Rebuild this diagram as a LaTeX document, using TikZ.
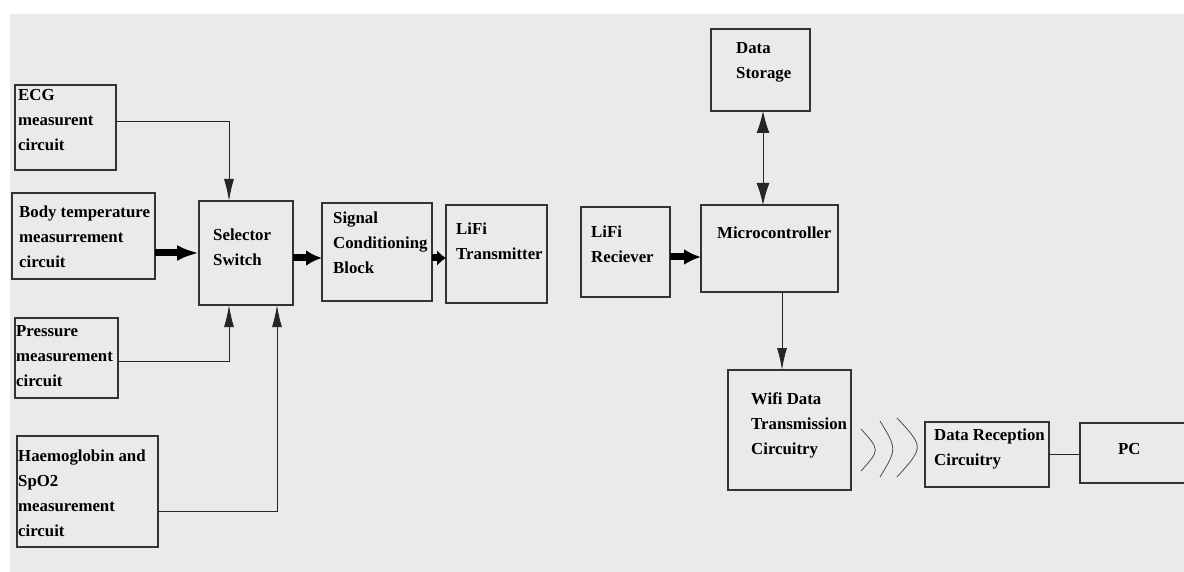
\documentclass[tikz,border=0pt]{standalone}
\usepackage{fontspec}
\setmainfont{Liberation Serif}
\usetikzlibrary{arrows.meta,fit}
\definecolor{pagegray}{HTML}{EAEAEA}
\definecolor{edgecol}{HTML}{333333}
\tikzset{
  blk/.style={draw=edgecol, line width=1.3pt, inner sep=0pt, outer sep=0pt},
  lbl/.style={font=\fontsize{16.8}{25}\selectfont\bfseries, align=left, inner sep=0pt, anchor=north west},
  thinarr/.style={draw=black!85, line width=1pt, -{Latex[length=22pt,width=10pt]}},
  bothway/.style={draw=black!85, line width=1pt, {Latex[length=22pt,width=13pt]}-{Latex[length=22pt,width=13pt]}},
  fatarr/.style={line width=7pt, -{Latex[length=#1,width=16pt]}},
  plain/.style={draw=black!85, line width=1pt},
  wave/.style={draw=black!70, line width=0.8pt}
}
\begin{document}
\begin{tikzpicture}[x=1pt, y=-1pt]
  \useasboundingbox (0,0) rectangle (1184,572);
  \fill[pagegray] (10,14) rectangle (1184,572);
  % sensor blocks on the left
  \node[blk, fit={(15,85) (116,170)}] (ecg) {};
  \node[lbl] (ecg-t) at (18,89) {ECG\\measurent\\circuit};
  \node[blk, fit={(12,193) (155,279)}] (temp) {};
  \node[lbl] (temp-t) at (19,206) {Body temperature\\measurrement\\circuit};
  \node[blk, fit={(15,318) (118,398)}] (pres) {};
  \node[lbl] (pres-t) at (16,325) {Pressure\\measurement\\circuit};
  \node[blk, fit={(17,436) (158,547)}] (hb) {};
  \node[lbl] (hb-t) at (18,450) {Haemoglobin and\\SpO2\\measurement\\circuit};
  % transmitter chain
  \node[blk, fit={(199,201) (293,305)}] (sel) {};
  \node[lbl] (sel-t) at (213,229) {Selector\\Switch};
  \node[blk, fit={(322,203) (432,301)}] (sig) {};
  \node[lbl] (sig-t) at (333,212) {Signal\\Conditioning\\Block};
  \node[blk, fit={(446,205) (547,303)}] (ltx) {};
  \node[lbl] (ltx-t) at (456,223) {LiFi\\Transmitter};
  % receiver side
  \node[blk, fit={(581,207) (670,297)}] (lrx) {};
  \node[lbl] (lrx-t) at (591,226) {LiFi\\Reciever};
  \node[blk, fit={(711,29) (810,111)}] (stor) {};
  \node[lbl] (stor-t) at (736,42) {Data\\Storage};
  \node[blk, fit={(701,205) (838,292)}] (mcu) {};
  \node[lbl] (mcu-t) at (717,227) {Microcontroller};
  \node[blk, fit={(728,370) (851,490)}] (wifi) {};
  \node[lbl] (wifi-t) at (751,392) {Wifi Data\\Transmission\\Circuitry};
  \node[blk, fit={(925,422) (1049,487)}] (recv) {};
  \node[lbl] (recv-t) at (934,429) {Data Reception\\Circuitry};
  \node[blk, fit={(1080,423) (1200,483)}] (pc) {};
  \node[lbl] (pc-t) at (1118,443) {PC};
  % inputs into the selector
  \coordinate (sel-n) at ([xshift=-17pt]sel.north);
  \coordinate (sel-s1) at ([xshift=-17pt]sel.south);
  \coordinate (sel-s2) at ([xshift=31pt]sel.south);
  \draw[thinarr] ([yshift=6pt]ecg.east) -| (sel-n);
  \draw[fatarr=22pt] (temp.east |- sel.west) -- (sel.west);
  \draw[thinarr] ([yshift=-3pt]pres.east) -| (sel-s1);
  \draw[thinarr] ([yshift=-20pt]hb.east) -| (sel-s2);
  \draw[fatarr=16pt] ([yshift=-5pt]sel.east) -- ([yshift=-5pt]sel.east -| sig.west);
  \draw[fatarr=9pt] ([yshift=-6pt]sig.east) -- ([yshift=-6pt]sig.east -| ltx.west);
  % microcontroller links
  \draw[fatarr=17pt] ([yshift=-5pt]lrx.east) -- ([yshift=-5pt]lrx.east -| mcu.west);
  \draw[bothway] ([xshift=2.5pt]stor.south) -- ([xshift=2.5pt]stor.south |- mcu.north);
  \draw[thinarr] ([xshift=12.5pt]mcu.south) -- ([xshift=12.5pt]mcu.south |- wifi.north);
  % wireless link
  \draw[wave] (861,429) .. controls (880,450) .. (861,471);
  \draw[wave] (880,421) .. controls (897,449) .. (880,477);
  \draw[wave] (897,418) .. controls (924,447) .. (897,477);
  \draw[plain] (recv.east) -- (recv.east -| pc.west);
\end{tikzpicture}
\end{document}
